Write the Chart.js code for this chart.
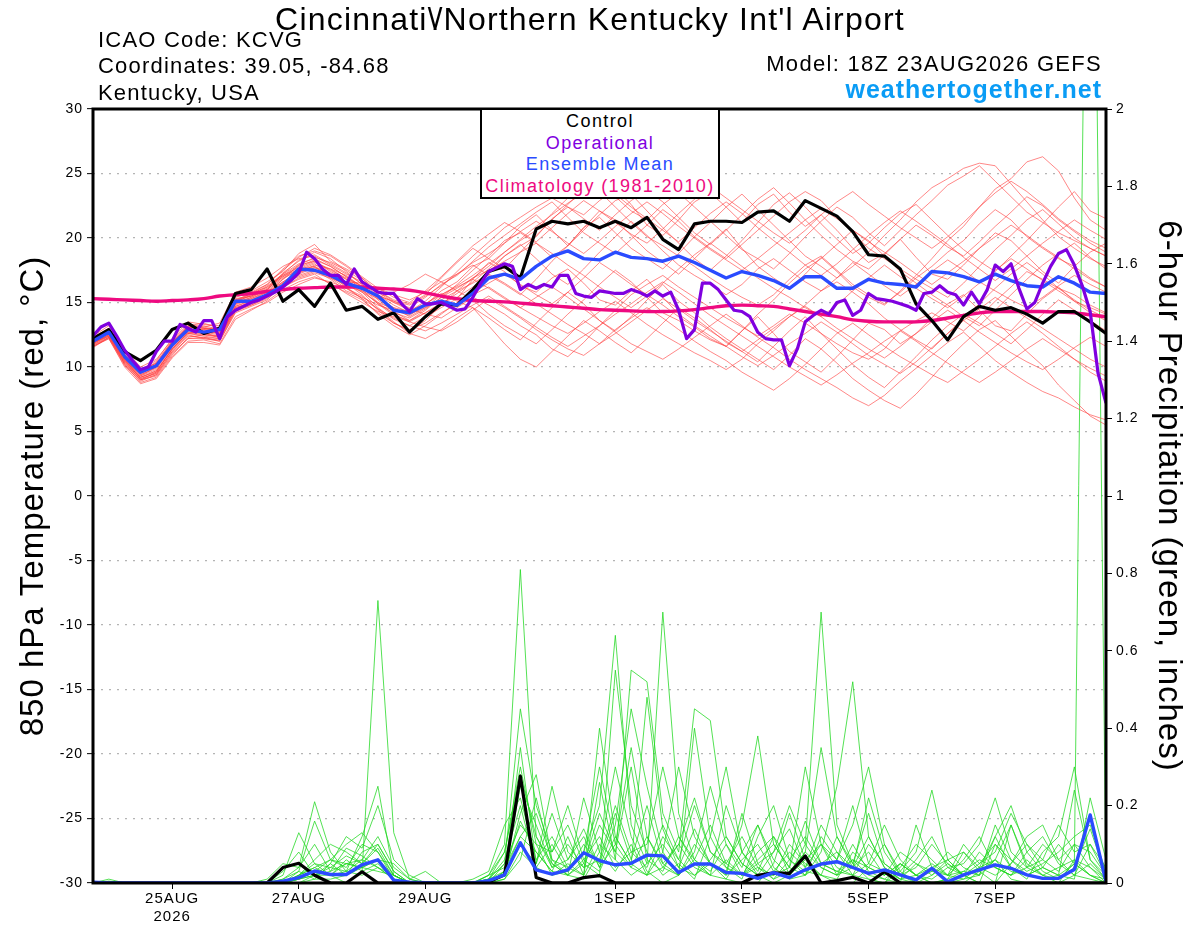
<!DOCTYPE html>
<html>
<head>
<meta charset="utf-8">
<title>KCVG GEFS 850 hPa temperature and precipitation</title>
<script src="https://cdn.jsdelivr.net/npm/chart.js@4/dist/chart.umd.min.js"></script>
<style>
  body { margin: 0; background: #fff; }
  #wrap { position: relative; width: 1200px; height: 927px; font-family: "Liberation Sans", Arial, sans-serif; }
  .t { position: absolute; white-space: nowrap; line-height: 1; color: #000; }
  #title { left: 0; width: 1180px; top: 3px; text-align: center; font-size: 32px; letter-spacing: 1.2px; }
  #title .bs { letter-spacing: -3px; }
  .info { left: 98px; font-size: 22px; letter-spacing: 1.2px; }
  .right { right: 98px; text-align: right; }
  #model { top: 53px; font-size: 22px; letter-spacing: 1.3px; }
  #site { top: 77px; font-size: 25px; font-weight: bold; color: #0a9cf5; letter-spacing: 1px; }
  #legend { position: absolute; left: 480px; top: 108px; width: 240px; height: 91px; box-sizing: border-box;
            border: 2px solid #000; background: #fff; text-align: center; font-size: 18px; line-height: 21.5px;
            padding-top: 1px; letter-spacing: 1.4px; }
</style>
</head>
<body>
<div id="wrap">
  <canvas id="myChart" width="1200" height="927"></canvas>
  <div class="t" id="title">Cincinnati<span class="bs">\</span>/Northern Kentucky Int'l Airport</div>
  <div class="t info" style="top:29px">ICAO Code: KCVG</div>
  <div class="t info" style="top:55px">Coordinates: 39.05, -84.68</div>
  <div class="t info" style="top:82px">Kentucky, USA</div>
  <div class="t right" id="model">Model: 18Z 23AUG2026 GEFS</div>
  <div class="t right" id="site">weathertogether.net</div>
  <div id="legend">
    <div style="color:#000">Control</div>
    <div style="color:#7f00df">Operational</div>
    <div style="color:#2a4bff">Ensemble Mean</div>
    <div style="color:#ee0a80">Climatology (1981-2010)</div>
  </div>
</div>
<script>
// Ось X: часы от 18Z 23AUG (шаг 6 ч, у оперативного прогона 3 ч)
let tickHours = [30, 78, 126, 198, 246, 294, 342];
let tickLabels = ['25AUG', '27AUG', '29AUG', '1SEP', '3SEP', '5SEP', '7SEP'];
let tickYear = '2026';

// Температура 850 гПа, °C
let controlTemp = [
  12.2,12.9,11.2,10.5,11.3,12.9,13.4,12.6,13.0,15.7,
  16.0,17.6,15.1,16.0,14.7,16.5,14.4,14.7,13.7,14.2,
  12.7,13.9,14.9,14.8,16.0,17.4,17.8,16.9,20.7,21.3,
  21.1,21.3,20.8,21.3,20.8,21.6,19.9,19.1,21.1,21.3,
  21.3,21.2,22.0,22.1,21.3,22.9,22.3,21.7,20.5,18.7,
  18.6,17.6,14.9,13.6,12.1,13.9,14.7,14.4,14.6,14.1,
  13.4,14.3,14.3,13.5,12.6];
let meanTemp = [
  12.0,12.7,10.8,9.6,10.1,11.7,12.9,12.7,12.9,15.1,
  15.1,15.6,16.3,17.6,17.5,17.1,16.5,16.1,15.5,14.4,
  14.2,14.8,15.1,14.8,15.7,16.9,17.2,16.8,17.8,18.6,
  19.0,18.4,18.3,18.9,18.5,18.4,18.2,18.6,18.1,17.5,
  16.9,17.4,17.1,16.7,16.1,17.0,17.0,16.1,16.1,16.8,
  16.5,16.4,16.2,17.4,17.3,17.0,16.6,17.2,16.7,16.3,
  16.2,17.0,16.5,15.8,15.7];
let climoTemp = [
  15.3,15.25,15.2,15.15,15.1,15.15,15.2,15.3,15.5,15.6,
  15.7,15.85,16.0,16.1,16.15,16.2,16.2,16.2,16.1,16.05,
  15.95,15.75,15.5,15.3,15.15,15.1,15.05,14.95,14.85,14.75,
  14.65,14.55,14.45,14.4,14.35,14.3,14.3,14.35,14.45,14.6,
  14.75,14.8,14.75,14.7,14.5,14.3,14.1,13.9,13.65,13.55,
  13.5,13.5,13.5,13.6,13.8,14.0,14.2,14.3,14.3,14.3,
  14.3,14.25,14.2,14.05,13.9];
// оперативный прогон, шаг 3 ч
let operTemp = [
  12.4,13.1,13.4,12.4,11.3,10.5,9.8,10.0,11.2,12.0,
  12.0,13.3,13.0,12.7,13.6,13.6,12.2,13.9,14.4,14.7,
  15.0,15.2,15.5,15.8,16.2,16.7,17.3,18.9,18.4,17.6,
  17.1,17.1,16.4,17.6,16.6,16.2,15.8,15.7,15.7,14.9,
  14.3,15.3,14.9,14.9,15.0,14.7,14.4,14.5,15.4,16.5,
  17.4,17.7,18.0,17.8,16.0,16.4,16.1,16.4,16.2,17.1,
  17.1,15.7,15.5,15.4,15.9,15.8,15.7,15.7,16.0,15.8,
  15.5,15.9,15.5,15.8,14.4,12.2,12.9,16.5,16.5,16.0,
  15.2,14.4,14.3,13.9,12.7,12.2,12.1,12.1,10.1,11.4,
  13.5,14.0,14.4,14.1,15.0,15.2,14.0,14.4,15.7,15.3,
  15.2,15.1,14.9,14.7,14.4,15.7,15.8,16.3,15.8,15.6,
  14.8,15.8,14.9,16.0,17.9,17.4,18.0,16.1,14.5,15.0,
  16.5,17.8,18.8,19.1,17.9,16.3,14.3,9.5,7.2];
// члены ансамбля
let memberTemp = [
  [11.8,12.5,10.4,9.2,9.6,11.4,12.6,12.4,12.2,14.6,15.0,15.6,16.8,17.9,18.2,17.4,16.8,16.2,15.0,14.1,
   13.5,14.2,15.0,15.4,16.2,17.3,18.6,19.4,20.1,21.5,22.4,21.8,22.9,23.8,22.6,21.0,20.2,21.4,22.8,23.5,
   22.4,21.2,22.6,23.4,22.0,20.9,21.8,20.6,19.2,18.1,18.8,19.9,18.5,17.2,16.8,17.9,19.2,20.4,19.8,18.6,
   17.4,16.5,17.8,18.9,19.6],
  [12.1,12.9,10.9,9.5,10.2,11.9,13.1,13.0,12.9,15.2,15.5,16.1,17.0,17.6,17.8,16.9,16.4,15.8,14.6,13.7,
   13.2,13.9,14.6,15.3,16.8,18.1,17.4,16.3,15.8,16.9,17.6,16.5,15.2,14.8,15.9,16.8,15.4,14.1,13.2,12.4,
   11.6,12.8,13.9,12.6,11.2,10.4,9.6,10.8,12.1,13.4,12.9,11.8,12.6,13.8,14.9,15.6,14.4,13.2,12.8,14.1,
   15.3,16.2,15.1,14.2,13.6],
  [11.6,12.2,10.1,8.9,9.4,11.1,12.2,12.3,12.0,14.2,14.7,15.2,16.4,17.1,17.5,16.8,15.9,15.4,14.8,14.4,
   14.0,14.8,15.9,16.6,17.8,18.4,19.6,20.9,21.8,20.6,19.4,20.8,22.1,21.4,20.2,19.0,18.1,17.2,18.4,19.6,
   20.7,19.2,17.8,16.9,16.1,17.2,18.5,17.4,16.2,15.4,14.8,15.9,17.1,18.4,19.8,20.9,22.4,23.8,24.6,25.9,
   26.3,25.2,23.1,21.4,20.6],
  [12.3,13.0,11.2,9.8,10.5,12.2,13.5,13.3,13.2,15.6,15.9,16.6,17.4,18.8,19.5,18.2,17.6,16.9,15.6,14.8,
   14.2,14.9,15.7,15.1,14.6,13.8,12.9,12.1,13.4,14.6,15.8,14.9,13.6,12.8,13.9,15.2,16.4,15.1,14.2,13.1,
   12.2,11.4,10.6,9.8,10.9,12.2,11.4,10.3,9.1,8.2,7.4,6.8,7.9,9.2,10.6,11.8,12.9,13.6,12.4,11.2,
   10.1,8.6,7.4,6.2,5.5],
  [11.9,12.6,10.7,9.4,9.9,11.6,12.9,12.8,12.6,14.9,15.3,15.9,16.9,17.5,18.0,17.1,16.6,16.5,16.1,15.6,
   15.2,15.8,16.6,17.2,17.9,17.1,16.4,15.6,16.8,18.2,19.4,20.6,21.8,22.9,23.4,22.1,20.8,19.6,18.4,17.5,
   18.6,19.8,21.2,22.6,23.5,22.4,21.1,19.9,18.8,19.6,20.8,21.9,22.6,21.4,20.2,19.1,18.2,17.4,18.6,19.8,
   21.1,22.4,23.6,22.1,21.5],
  [12.0,12.8,10.6,9.1,9.5,11.2,12.5,12.2,12.1,14.4,14.8,15.4,16.2,16.8,17.2,16.4,15.8,15.2,14.2,13.4,
   12.8,13.6,14.8,15.9,16.9,17.8,18.9,19.8,20.6,21.9,23.1,24.2,23.6,22.4,21.2,20.1,19.4,18.6,17.8,16.9,
   16.1,15.4,14.8,15.6,16.8,17.9,18.6,17.5,16.4,15.6,14.9,15.8,16.9,17.8,18.9,19.8,21.1,22.2,21.4,20.1,
   19.2,18.4,17.8,16.9,16.2],
  [11.7,12.4,10.3,9.0,9.3,10.9,12.3,12.5,12.4,14.5,15.0,15.7,16.6,17.3,17.9,17.6,17.1,16.2,15.4,15.8,
   16.4,17.2,16.6,15.9,15.2,14.1,13.2,12.5,11.8,12.9,14.1,15.2,16.4,17.5,16.6,15.4,14.2,13.6,12.8,12.1,
   11.6,12.8,14.1,15.2,16.5,17.6,18.4,19.5,20.6,19.8,18.6,17.4,16.5,15.6,14.8,13.9,13.2,14.4,15.6,16.8,
   17.9,18.8,19.6,18.5,17.6],
  [12.4,13.2,11.4,10.0,10.6,12.1,13.3,13.1,13.4,15.8,16.2,16.9,17.8,18.4,18.6,17.9,17.2,16.6,15.9,15.1,
   14.5,14.1,13.8,14.6,15.4,14.8,14.1,13.2,12.5,11.4,10.8,11.9,13.2,14.4,15.6,16.4,17.1,16.2,15.4,14.6,
   13.8,13.1,12.4,13.2,14.1,13.4,12.6,11.8,11.1,10.6,11.4,12.8,13.6,14.2,13.5,12.8,13.9,15.1,16.2,17.4,
   16.8,16.1,15.6,14.8,14.2],
  [12.2,12.7,10.8,9.6,10.4,12.0,13.0,12.6,12.7,15.0,15.6,16.3,17.2,18.0,18.4,17.8,17.0,16.0,14.9,14.0,
   13.6,14.4,15.4,16.4,17.5,18.6,19.8,20.4,19.6,18.5,19.4,20.8,21.6,20.4,19.2,18.4,17.6,18.8,20.1,21.2,
   22.4,23.4,22.2,21.0,19.8,18.6,17.8,16.9,17.8,18.9,20.2,21.4,22.8,23.9,24.6,25.4,25.8,25.6,24.2,22.8,
   21.4,20.1,19.2,18.4,17.8],
  [11.5,12.3,10.2,8.8,9.2,10.8,12.0,12.1,11.8,13.9,14.5,15.0,15.8,16.4,16.9,16.6,16.1,15.5,14.5,13.5,
   12.6,12.2,12.9,13.8,14.6,13.2,11.8,10.6,10.0,11.2,12.4,13.6,12.8,11.9,11.1,12.2,13.4,14.6,13.8,12.9,
   11.9,11.2,10.4,11.6,12.8,13.9,12.6,11.4,10.2,9.2,8.4,9.6,10.8,12.1,13.2,14.1,13.4,12.6,11.8,12.9,
   14.1,15.2,14.4,13.6,12.8],
  [12.0,12.6,10.6,9.3,10.0,11.8,13.2,13.4,13.0,15.3,15.5,16.0,17.3,18.2,18.9,18.4,17.4,16.4,15.6,15.0,
   14.6,15.4,16.4,17.1,18.2,19.3,20.2,21.1,22.0,22.8,21.6,20.4,19.6,18.8,19.9,21.0,22.2,21.3,20.1,19.2,
   18.4,19.5,20.6,21.7,22.8,23.6,22.9,21.6,20.4,19.2,18.4,17.6,16.8,16.1,15.4,16.5,17.8,19.1,20.2,21.4,
   22.2,21.1,20.0,19.2,18.6],
  [11.8,12.5,10.5,9.2,9.7,11.3,12.7,12.6,12.3,14.7,15.1,15.6,16.5,17.0,17.4,17.0,16.3,15.9,15.3,14.6,
   13.9,14.6,15.6,16.2,16.8,16.1,15.3,14.6,13.9,13.2,12.6,13.4,14.3,15.1,14.2,13.3,12.5,11.8,11.1,10.5,
   9.8,10.6,11.8,12.8,13.9,14.8,15.9,16.6,15.8,14.9,13.8,12.9,12.1,11.4,12.6,13.8,14.9,16.1,17.2,18.1,
   17.2,16.1,15.2,14.4,13.8],
  [12.1,12.8,10.9,9.6,10.2,11.9,12.9,12.9,13.1,15.4,15.8,16.4,17.6,18.6,19.0,18.6,17.8,16.9,15.9,15.2,
   14.9,15.6,16.9,18.1,19.2,18.4,17.6,18.9,20.2,21.4,22.6,23.8,24.4,23.2,22.1,21.4,22.6,23.5,22.4,21.3,
   20.2,19.1,18.4,17.6,18.8,20.1,21.3,22.4,21.6,20.4,19.4,20.6,21.8,22.9,24.1,24.8,25.6,24.4,23.2,22.0,
   21.2,20.4,19.8,19.2,18.6],
  [11.9,12.4,10.4,9.0,9.6,11.4,12.6,12.7,12.5,14.8,15.3,15.8,16.6,17.4,17.8,17.2,16.5,15.6,14.4,13.4,
   12.9,13.4,14.2,14.9,15.6,16.2,15.4,14.6,15.4,16.2,15.4,14.5,13.6,12.7,11.8,11.2,10.6,11.4,12.3,13.2,
   14.1,13.2,12.3,11.5,10.6,9.8,9.1,8.4,7.6,7.0,7.8,8.9,9.9,10.9,11.9,12.7,11.6,10.5,9.6,8.8,
   8.1,7.6,6.9,6.3,5.9],
  [12.2,13.0,11.0,9.7,10.3,11.7,13.1,13.2,12.9,15.1,15.7,16.2,17.1,17.7,18.2,17.5,16.9,16.3,15.2,14.3,
   13.6,14.2,14.9,15.7,16.6,17.6,18.6,19.5,18.4,17.2,16.4,17.6,18.9,20.1,21.3,20.2,19.0,17.9,17.1,16.4,
   15.6,16.4,17.6,18.4,17.5,16.6,15.9,16.9,18.1,17.2,16.3,15.5,16.4,17.4,18.3,17.5,16.6,15.9,15.2,14.6,
   15.4,16.3,17.1,16.4,15.8],
  [11.6,12.2,10.0,8.7,9.1,10.7,11.9,11.9,11.7,13.7,14.4,15.1,16.0,16.6,17.0,16.5,15.7,15.0,14.3,13.9,
   13.5,13.1,12.8,13.5,14.4,15.3,14.6,13.8,12.9,12.1,11.4,10.9,11.8,12.9,13.8,14.6,13.8,12.9,12.0,11.2,
   10.5,9.6,8.9,8.2,9.1,10.2,11.4,12.6,13.4,12.5,11.6,10.8,10.1,9.4,8.8,9.7,10.6,11.6,12.6,13.5,
   12.6,11.6,10.6,9.6,8.9],
  [12.0,12.7,10.8,9.4,10.0,11.6,12.8,12.9,12.6,14.9,15.4,16.0,17.2,18.3,18.7,18.0,17.3,16.4,15.3,14.6,
   14.3,15.1,16.2,17.4,18.6,19.7,20.8,21.6,22.4,23.1,22.4,21.5,20.6,21.8,22.9,23.7,22.8,21.6,20.4,19.5,
   20.6,21.8,23.0,23.9,22.7,21.4,20.2,19.1,18.2,17.6,18.7,19.9,21.0,20.2,19.3,18.6,19.7,20.9,22.0,23.2,
   22.5,21.4,20.5,19.6,18.9],
  [11.7,12.3,10.3,9.1,9.5,11.2,12.4,12.3,12.2,14.4,14.9,15.5,16.4,17.2,17.7,17.1,16.2,15.3,14.1,13.2,
   12.5,13.2,14.1,15.0,15.8,16.5,17.2,16.4,15.6,14.9,15.8,16.9,18.1,17.3,16.4,15.6,14.8,13.9,13.1,12.2,
   11.6,10.8,10.1,10.9,11.8,12.6,13.5,12.7,11.8,10.9,10.2,9.5,10.4,11.5,12.6,13.6,14.5,15.4,14.6,13.8,
   13.0,12.2,11.4,10.6,10.0],
  [12.3,12.9,11.0,9.7,10.3,12.0,13.2,13.0,12.8,15.2,15.7,16.4,17.5,18.5,19.2,18.7,17.9,17.0,16.1,15.4,
   15.0,15.9,17.0,18.2,19.4,20.3,21.2,20.5,19.7,20.8,21.9,22.9,22.1,21.2,20.3,19.6,20.7,21.9,23.0,24.0,
   23.1,22.2,21.3,20.4,19.6,20.6,21.8,22.8,23.6,22.6,21.7,20.8,20.0,19.2,20.1,21.2,22.4,23.5,24.4,23.6,
   22.6,21.5,20.6,19.8,19.2],
  [11.9,12.5,10.6,9.3,9.8,11.5,12.7,12.6,12.4,14.7,15.2,15.8,16.8,17.6,18.1,17.6,16.8,15.9,14.9,14.2,
   13.8,14.5,15.4,16.1,16.9,17.5,18.2,18.9,19.6,18.8,17.9,17.1,16.2,15.4,14.6,15.5,16.5,17.6,18.7,19.6,
   18.7,17.8,16.9,16.1,15.4,14.6,13.9,14.8,15.9,16.9,17.9,17.0,16.1,15.3,14.6,15.5,16.5,17.5,18.4,17.6,
   16.7,15.9,15.1,14.6,14.1],
  [12.1,12.7,10.7,9.5,10.1,11.8,13.0,13.1,12.8,15.1,15.5,16.2,17.1,17.9,18.5,18.1,17.5,16.7,15.8,15.0,
   14.4,14.9,15.6,16.3,17.1,18.0,18.9,19.9,20.9,21.8,22.7,23.5,24.3,23.4,22.4,21.5,20.6,19.7,20.8,21.9,
   22.8,21.9,20.8,19.8,18.9,17.9,17.1,18.0,19.1,20.2,21.2,22.1,21.3,20.4,19.5,18.5,17.6,16.7,17.6,18.6,
   19.6,20.5,21.4,20.6,19.9],
  [11.8,12.4,10.5,9.2,9.7,11.4,12.6,12.5,12.3,14.6,15.0,15.6,16.5,17.3,17.7,17.3,16.6,15.8,15.0,14.5,
   14.1,14.6,15.2,15.9,16.5,17.2,16.5,15.7,14.9,14.1,13.3,12.6,11.8,12.6,13.5,14.4,15.3,14.5,13.6,12.8,
   12.0,11.2,12.1,13.0,13.9,14.7,13.9,13.0,12.2,11.4,10.7,11.6,12.6,13.5,14.4,13.6,12.7,11.9,11.1,10.4,
   9.8,10.6,11.5,12.3,11.6],
  [12.2,12.8,10.9,9.6,10.2,11.9,13.1,13.0,12.7,15.0,15.4,16.0,17.0,17.8,18.3,17.8,17.0,16.2,15.5,15.1,
   14.8,15.5,16.3,17.2,18.1,18.8,19.6,20.5,21.3,20.5,19.6,18.8,19.8,20.9,21.9,22.8,21.9,20.9,20.0,19.1,
   18.3,17.5,18.4,19.4,20.4,21.4,22.3,21.5,20.6,19.7,18.9,18.1,17.2,16.4,17.3,18.2,19.2,20.1,21.0,20.2,
   19.3,18.5,17.6,16.8,16.2],
  [11.6,12.3,10.2,9.0,9.4,11.0,12.2,12.2,12.0,14.3,14.8,15.3,16.2,16.9,17.3,16.9,16.1,15.3,14.5,13.8,
   13.2,12.8,13.4,14.1,14.8,15.5,14.7,13.9,13.1,12.3,11.6,12.4,13.2,14.1,14.9,15.8,16.6,15.8,14.9,14.0,
   13.2,12.4,11.6,10.8,10.0,9.3,8.6,9.4,10.3,11.1,12.0,12.8,12.0,11.1,10.3,9.5,8.8,9.6,10.5,11.4,
   12.2,11.4,10.6,9.9,9.3]
];

// Осадки за 6 ч, дюймы
let controlPrecip = [
  0,0,0,0,0, 0,0,0,0,0, 0,0,0.04,0.051,0.02, 0,0,0.029,0,0, 0,0,0,0,0,
  0.003,0.021,0.276,0.014,0, 0,0.014,0.019,0,0, 0,0,0,0,0, 0,0,0.02,0.026,0.025,
  0.07,0,0.006,0.015,0, 0.029,0,0,0,0, 0,0,0,0,0, 0,0,0,0,0];
let meanPrecip = [
  0.002,0,0,0,0, 0,0,0,0,0, 0,0,0.005,0.014,0.031, 0.022,0.022,0.047,0.06,0.007, 0.002,0.001,0,0,0,
  0.006,0.021,0.104,0.034,0.023, 0.034,0.078,0.058,0.047,0.051, 0.072,0.07,0.027,0.049,0.049,
  0.027,0.025,0.012,0.027,0.014, 0.034,0.049,0.055,0.04,0.025, 0.034,0.021,0.008,0.038,0.003,
  0.021,0.034,0.047,0.038,0.021, 0.012,0.012,0.035,0.176,0.003];
let memberPrecip = [
  [0,0.01,0,0,0, 0,0,0,0,0, 0,0,0.02,0.13,0.05, 0.02,0,0.03,0.73,0.13, 0.01,0.03,0,0,0,
   0.02,0.1,0.81,0.12,0.05, 0.02,0.01,0.08,0.3,0.12, 0.03,0,0.02,0.1,0.05, 0.01,0,0,0.05,0.18,
   0.06,0.02,0,0,0.04, 0.1,0.02,0,0,0, 0,0.03,0.06,0.01,0, 0,0,0.02,0.05,0.01],
  [0,0,0,0,0, 0,0,0,0,0, 0,0.01,0.05,0.04,0.21, 0.08,0.03,0.12,0.25,0.02, 0,0,0,0,0,
   0.01,0.05,0.45,0.2,0.08, 0.15,0.05,0.02,0.55,0.2, 0.08,0.02,0.05,0.01,0.12, 0.3,0.08,0.02,0,0.02,
   0.1,0.7,0.15,0.05,0.01, 0,0.05,0.02,0,0.01, 0.08,0.03,0,0.15,0.05, 0.02,0,0.06,0.04,0],
  [0,0,0,0,0, 0,0,0,0,0, 0,0,0.01,0.03,0.16, 0.06,0.1,0.13,0.08,0.01, 0,0,0,0,0,
   0,0.02,0.35,0.05,0.18, 0.06,0.12,0.04,0.15,0.45, 0.25,0.08,0.02,0.4,0.12, 0.04,0.01,0.12,0.2,0.06,
   0.02,0.08,0.25,0.52,0.12, 0.04,0.01,0,0.02,0.05, 0.02,0,0.1,0.04,0.01, 0.08,0.12,0.3,0.06,0.02],
  [0,0.005,0,0,0, 0,0,0,0,0, 0,0,0.03,0.08,0.02, 0.05,0.12,0.09,0.2,0.06, 0.02,0,0,0,0,
   0.01,0.08,0.3,0.1,0.02, 0.03,0.08,0.2,0.64,0.15, 0.05,0.7,0.18,0.06,0.02, 0.01,0.08,0.15,0.04,0.01,
   0.02,0.12,0.06,0.15,0.3, 0.1,0.03,0,0,0, 0.01,0.02,0.12,0.2,0.08, 0.03,0.01,0.05,0.02,0],
  [0,0,0,0,0, 0,0,0,0,0, 0,0,0,0.02,0.06, 0.1,0.08,0.05,0.1,0.03, 0,0,0,0,0.01,
   0.03,0.15,0.22,0.06,0.12, 0.04,0.02,0.1,0.06,0.55, 0.52,0.18,0.08,0.45,0.42, 0.12,0.05,0.02,0.08,0.14,
   0.04,0.15,0.08,0.02,0.01, 0,0.03,0.08,0.24,0.06, 0.02,0,0,0.05,0.1, 0.04,0.02,0.01,0.22,0.06],
  [0,0,0,0,0, 0,0,0,0,0, 0,0,0.01,0.04,0.1, 0.03,0.09,0.07,0.04,0.02, 0,0,0,0,0,
   0,0.02,0.18,0.28,0.06, 0.02,0.22,0.08,0.03,0.1, 0.02,0.08,0.3,0.12,0.05, 0.02,0.18,0.05,0.01,0.03,
   0.08,0.04,0.02,0.1,0.03, 0.01,0,0.15,0.04,0.02, 0.06,0.12,0.04,0.02,0.08, 0.12,0.05,0.02,0.01,0],
  [0,0,0,0,0, 0,0,0,0,0, 0,0,0,0.01,0.03, 0.06,0.04,0.1,0.08,0.02, 0,0,0,0,0,
   0.02,0.04,0.12,0.08,0.03, 0.02,0.05,0.18,0.08,0.04, 0.12,0.05,0.02,0.08,0.25, 0.1,0.02,0.04,0.01,0.06,
   0.03,0.02,0.01,0.08,0.04, 0.02,0.05,0.02,0,0.01, 0.03,0.02,0.06,0.03,0.02, 0.01,0.02,0.05,3.6,0],
  [0,0,0,0,0, 0,0,0,0,0, 0,0,0,0.02,0.04, 0.02,0.06,0.03,0.05,0.01, 0,0,0,0,0,
   0,0.03,0.25,0.15,0.04, 0.1,0.04,0.15,0.08,0.3, 0.06,0.03,0.12,0.05,0.02, 0.2,0.08,0.03,0.12,0.06,
   0.12,0.05,0.08,0.04,0.12, 0.04,0.01,0.05,0.03,0.08, 0.04,0.02,0.15,0.06,0.03, 0.05,0.08,0.12,0.15,0.03],
  [0,0,0,0,0, 0,0,0,0,0, 0,0,0,0.01,0.02, 0.03,0.05,0.06,0.12,0.04, 0.01,0,0,0,0,
   0,0.01,0.08,0.04,0.02, 0.05,0.02,0.4,0.12,0.05, 0.02,0.04,0.1,0.22,0.08, 0.05,0.12,0.04,0.02,0.1,
   0.05,0.02,0.12,0.05,0.18, 0.05,0.02,0.01,0.03,0.02, 0.1,0.05,0.08,0.18,0.1, 0.06,0.03,0.1,0.08,0.02],
  [0,0,0,0,0, 0,0,0,0,0, 0,0,0,0,0.02, 0.04,0.03,0.02,0.04,0.01, 0,0,0,0,0,
   0.01,0.02,0.1,0.05,0.25, 0.08,0.04,0.06,0.2,0.08, 0.04,0.15,0.06,0.02,0.05, 0.03,0.15,0.38,0.1,0.04,
   0.02,0.05,0.03,0.06,0.02, 0.01,0.04,0.1,0.06,0.02, 0.01,0.04,0.02,0.05,0.12, 0.15,0.06,0.1,0.04,0.01],
  [0,0,0,0,0, 0,0,0,0,0, 0,0,0,0.03,0.01, 0.05,0.02,0.08,0.1,0.03, 0,0,0,0,0,
   0,0.05,0.15,0.1,0.08, 0.2,0.06,0.03,0.12,0.05, 0.48,0.14,0.04,0.02,0.06, 0.12,0.05,0.02,0.02,0.04,
   0.16,0.05,0.03,0.02,0.05, 0.03,0.01,0.02,0.05,0.02, 0.03,0.06,0.04,0.02,0.06, 0.02,0.04,0.06,0.02,0],
  [0,0,0,0,0, 0,0,0,0,0, 0,0,0,0.01,0.03, 0.02,0.05,0.04,0.06,0.02, 0,0,0,0,0,
   0.01,0.06,0.2,0.04,0.1, 0.03,0.1,0.05,0.18,0.06, 0.2,0.05,0.1,0.04,0.02, 0.06,0.02,0.06,0.1,0.04,
   0.3,0.1,0.02,0.04,0.22, 0.08,0.02,0.04,0.1,0.05, 0.02,0.04,0.06,0.15,0.04, 0.02,0.01,0.04,0.14,0.02],
  [0,0,0,0,0, 0,0,0,0,0, 0,0,0,0.02,0.05, 0.04,0.07,0.05,0.09,0.02, 0,0,0,0,0,
   0,0.03,0.16,0.08,0.03, 0.12,0.02,0.26,0.06,0.02, 0.05,0.1,0.04,0.14,0.05, 0.02,0.06,0.1,0.03,0.08,
   0.04,0.1,0.06,0.2,0.05, 0.15,0.06,0.02,0.01,0.04, 0.02,0.05,0.1,0.06,0.02, 0.04,0.1,0.05,0.02,0.01],
  [0,0,0,0,0, 0,0,0,0,0, 0,0,0,0,0.01, 0.01,0.02,0.04,0.06,0.05, 0.01,0,0,0,0,
   0,0.01,0.06,0.22,0.05, 0.02,0.06,0.12,0.04,0.08, 0.1,0.3,0.12,0.06,0.15, 0.05,0.02,0.08,0.12,0.02,
   0.06,0.1,0.04,0.02,0.1, 0.05,0.02,0.06,0.12,0.04, 0.05,0.1,0.22,0.08,0.04, 0.1,0.06,0.02,0.1,0.04],
  [0,0,0,0,0, 0,0,0,0,0, 0,0,0,0.01,0.02, 0.02,0.03,0.06,0.04,0.01, 0,0,0,0,0,
   0.02,0.08,0.28,0.12,0.04, 0.06,0.14,0.04,0.1,0.35, 0.12,0.04,0.02,0.06,0.03, 0.1,0.04,0.15,0.06,0.02,
   0.08,0.35,0.12,0.04,0.08, 0.02,0.05,0.02,0.04,0.06, 0.02,0.08,0.04,0.02,0.04, 0.06,0.15,0.08,0.1,0.02],
  [0,0,0,0,0, 0,0,0,0,0, 0,0,0,0.02,0.04, 0.06,0.05,0.04,0.03,0.02, 0,0,0,0,0,
   0.01,0.03,0.12,0.18,0.06, 0.04,0.08,0.3,0.1,0.04, 0.02,0.12,0.06,0.2,0.08, 0.04,0.02,0.05,0.08,0.2,
   0.1,0.04,0.02,0.06,0.04, 0.02,0.08,0.05,0.02,0.06, 0.08,0.04,0.12,0.04,0.02, 0.04,0.02,0.24,0.06,0.01]
];

// Функции
let toPoints = (values, step) => values.map((v, i) => ({ x: i * step, y: v }));

let line = (values, step, color, width, axis, order) => ({
  data: toPoints(values, step),
  yAxisID: axis,
  borderColor: color,
  borderWidth: width,
  pointRadius: 0,
  fill: false,
  tension: 0,
  borderJoinStyle: 'round',
  order: order
});

let datasets = [];
memberPrecip.forEach(m => datasets.push(line(m, 6, 'rgba(30,215,30,0.85)', 0.9, 'y2', 20)));
memberTemp.forEach(m => datasets.push(line(m, 6, 'rgba(255,60,60,0.68)', 0.9, 'y', 19)));
datasets.push(line(controlPrecip, 6, '#000000', 3.2, 'y2', 6));
datasets.push(line(meanPrecip, 6, '#2a4bff', 3.4, 'y2', 5));
let climo = line(climoTemp, 6, '#ee0a80', 3.4, 'y', 4);
climo.tension = 0.4;
datasets.push(climo);
datasets.push(line(controlTemp, 6, '#000000', 3.2, 'y', 3));
datasets.push(line(meanTemp, 6, '#2a4bff', 3.4, 'y', 2));
datasets.push(line(operTemp, 3, '#7f00df', 3.2, 'y', 1));

// рамка вокруг области графика
let framePlugin = {
  id: 'frame',
  beforeDraw: (chart) => { chart.ctx.letterSpacing = '1px'; },
  afterDatasetsDraw: (chart) => {
    let a = chart.chartArea;
    let ctx = chart.ctx;
    ctx.save();
    ctx.strokeStyle = '#000';
    ctx.lineWidth = 3;
    ctx.strokeRect(a.left, a.top, a.right - a.left, a.bottom - a.top);
    ctx.restore();
  }
};

let tickFont = { family: '"Liberation Sans", Arial, sans-serif', size: 14 };
let titleFont = { family: '"Liberation Sans", Arial, sans-serif', size: 33 };

let config = {
  type: 'line',
  data: { datasets: datasets },
  plugins: [framePlugin],
  options: {
    responsive: false,
    animation: false,
    devicePixelRatio: 1,
    layout: { padding: { top: 109, left: 0, right: 0, bottom: 0 } },
    plugins: { legend: { display: false }, tooltip: { enabled: false } },
    scales: {
      x: {
        type: 'linear', min: 0, max: 384,
        afterBuildTicks: (s) => { s.ticks = tickHours.map(v => ({ value: v })); },
        afterFit: (s) => { s.height = 44; },
        ticks: {
          autoSkip: false, maxRotation: 0, color: '#000', padding: 1,
          font: { family: tickFont.family, size: 15 },
          callback: (v, i) => i === 0 ? [tickLabels[0], tickYear] : tickLabels[i]
        },
        grid: { drawOnChartArea: false, color: '#000', tickLength: 6 },
        border: { display: false }
      },
      y: {
        position: 'left', min: -30, max: 30,
        afterFit: (s) => { s.width = 93; },
        ticks: { stepSize: 5, color: '#000', padding: 4, font: tickFont },
        grid: { color: '#b4b4b4', lineWidth: 1.3, tickColor: '#000', tickWidth: 1, tickLength: 6 },
        border: { display: false, dash: [2, 6] },
        title: { display: true, text: '850 hPa Temperature (red, \u00B0C)', color: '#000', font: titleFont, padding: { top: 14, bottom: 0 } }
      },
      y2: {
        position: 'right', min: 0, max: 2,
        afterFit: (s) => { s.width = 94; },
        ticks: { stepSize: 0.2, color: '#000', padding: 4, font: tickFont,
                 callback: (v) => String(Math.round(v * 10) / 10) },
        grid: { drawOnChartArea: false, color: '#000', tickLength: 6 },
        border: { display: false },
        title: { display: true, text: '6-hour Precipitation (green, inches)', color: '#000', font: titleFont, padding: { top: 12, bottom: 0 } }
      }
    }
  }
};

let chart = new Chart(document.querySelector('#myChart').getContext('2d'), config);
</script>
</body>
</html>
